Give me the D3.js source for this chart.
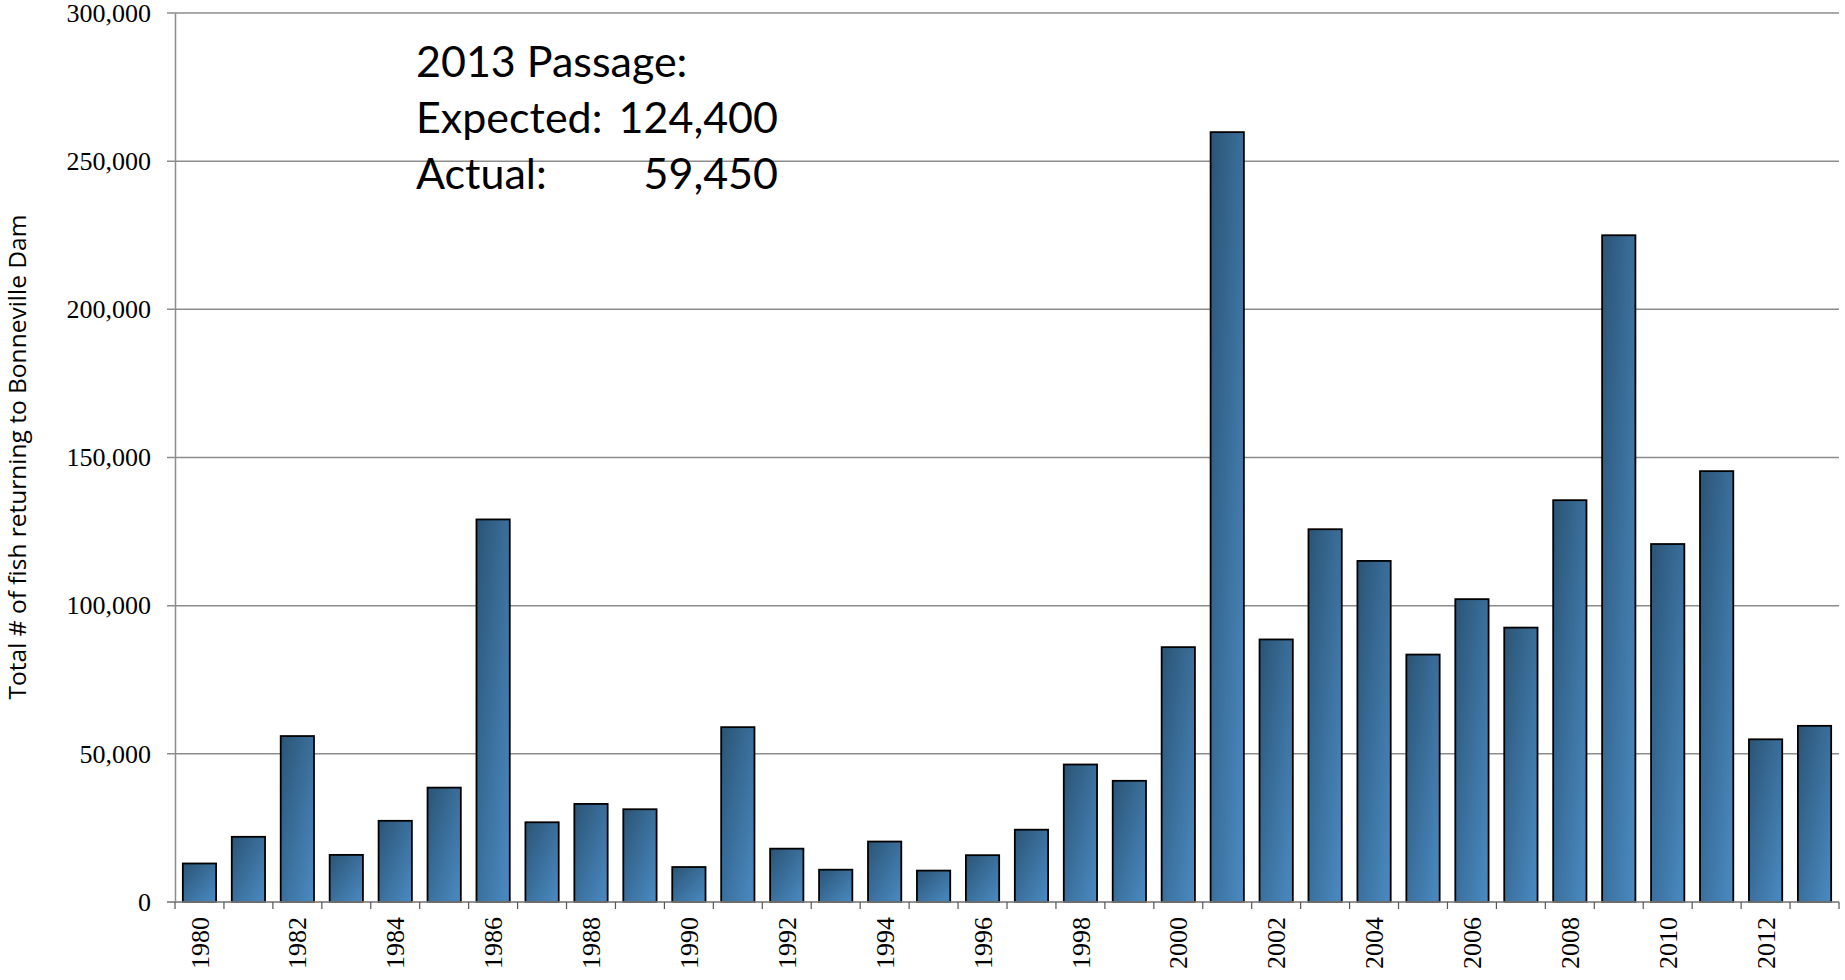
<!DOCTYPE html>
<html>
<head>
<meta charset="utf-8">
<script src="https://cdn.jsdelivr.net/npm/d3@7"></script>
<style>
  html, body { margin: 0; padding: 0; background: #fff; }
  svg { display: block; }
</style>
</head>
<body>
<svg id="chart" width="1845" height="980"></svg>
<script>
// fish passage at Bonneville Dam, one value per year
var years = [1980, 1981, 1982, 1983, 1984, 1985, 1986, 1987, 1988, 1989,
             1990, 1991, 1992, 1993, 1994, 1995, 1996, 1997, 1998, 1999,
             2000, 2001, 2002, 2003, 2004, 2005, 2006, 2007, 2008, 2009,
             2010, 2011, 2012, 2013];
var counts = [13000, 22000, 56000, 15900, 27400, 38600, 129100, 26900, 33100, 31300,
              11800, 59000, 18000, 10900, 20400, 10600, 15800, 24400, 46400, 40900,
              86000, 259800, 88600, 125800, 115100, 83500, 102200, 92600, 135600, 225000,
              120800, 145400, 54900, 59450];
var yTicks = [0, 50000, 100000, 150000, 200000, 250000, 300000];
var yTitle = "Total # of fish returning to Bonneville Dam";
var noteLines = ["2013 Passage:", "Expected:", "Actual:"];
var noteValues = ["", "124,400", "59,450"];

var margin = { top: 13, left: 175, right: 6, bottom: 78 };
var svg = d3.select("#chart");
var W = 1845 - margin.left - margin.right,
    H = 980 - margin.top - margin.bottom;

var data = years.map(function (y, i) { return { year: y, value: counts[i] }; });

var x = d3.scaleBand().domain(years).range([0, W]).paddingInner(0.32).paddingOuter(0.16);
var slot = d3.scaleBand().domain(years).range([0, W]).padding(0);
var y = d3.scaleLinear().domain([0, 300000]).range([H, 0]);

var defs = svg.append("defs");
var grad = defs.append("linearGradient")
    .attr("id", "barGrad")
    .attr("x1", 0).attr("y1", 0).attr("x2", 1).attr("y2", 1);
grad.append("stop").attr("offset", "0%").attr("stop-color", "#2b5475");
grad.append("stop").attr("offset", "100%").attr("stop-color", "#4a8bc3");

var g = svg.append("g").attr("transform", "translate(" + margin.left + "," + margin.top + ")");

// gridlines (they run out through the tick on the left)
g.append("g").selectAll("line")
    .data(yTicks)
    .enter().append("line")
    .attr("x1", -8).attr("x2", W)
    .attr("y1", function (d) { return y(d); })
    .attr("y2", function (d) { return y(d); })
    .attr("stroke", "#8c8c8c")
    .attr("stroke-width", 1.5);

// y axis
var yAxis = g.append("g")
    .call(d3.axisLeft(y).tickValues(yTicks).tickFormat(d3.format(",")).tickSize(0).tickPadding(24));
yAxis.select(".domain").attr("stroke", "#8c8c8c").attr("stroke-width", 1.5);
yAxis.selectAll("text")
    .attr("font-family", "'Liberation Serif', 'Times New Roman', serif")
    .attr("font-size", 26)
    .attr("fill", "#000");

// bars
g.append("g").selectAll("rect")
    .data(data)
    .enter().append("rect")
    .attr("x", function (d) { return x(d.year); })
    .attr("y", function (d) { return y(d.value); })
    .attr("width", x.bandwidth())
    .attr("height", function (d) { return H - y(d.value); })
    .attr("fill", "url(#barGrad)")
    .attr("stroke", "#000")
    .attr("stroke-width", 1.8);

// x axis line + tick marks on the category boundaries
g.append("line")
    .attr("x1", -8).attr("x2", W)
    .attr("y1", H).attr("y2", H)
    .attr("stroke", "#8c8c8c")
    .attr("stroke-width", 1.5);

var bounds = years.map(function (d) { return slot(d); }).concat([W]);
g.append("g").selectAll("line")
    .data(bounds)
    .enter().append("line")
    .attr("x1", function (d) { return d; })
    .attr("x2", function (d) { return d; })
    .attr("y1", H).attr("y2", H + 7)
    .attr("stroke", "#555")
    .attr("stroke-width", 1.2);

// year labels, every second one
g.append("g").selectAll("text")
    .data(years.filter(function (d, i) { return i % 2 === 0; }))
    .enter().append("text")
    .attr("transform", function (d) {
        return "translate(" + (x(d) + x.bandwidth() / 2) + "," + (H + 15) + ") rotate(-90)";
    })
    .attr("text-anchor", "end")
    .attr("dy", "0.35em")
    .attr("font-family", "'Liberation Serif', 'Times New Roman', serif")
    .attr("font-size", 26)
    .attr("fill", "#000")
    .text(function (d) { return d; });

// y axis title
svg.append("text")
    .attr("transform", "translate(26,457) rotate(-90)")
    .attr("text-anchor", "middle")
    .attr("font-family", "'Open Sans', 'Noto Sans', sans-serif")
    .attr("font-size", 24.5)
    .attr("fill", "#000")
    .text(yTitle);

// passage note
var note = svg.append("g").attr("font-family", "Lato, 'Noto Sans', sans-serif").attr("fill", "#000");
var noteSize = 43;
noteLines.forEach(function (t, i) {
    note.append("text")
        .attr("x", 416)
        .attr("y", 77 + i * 56)
        .attr("font-size", noteSize)
        .text(t);
    if (noteValues[i]) {
        note.append("text")
            .attr("x", 778)
            .attr("y", 77 + i * 56)
            .attr("text-anchor", "end")
            .attr("font-size", noteSize)
            .text(noteValues[i]);
    }
});
</script>
</body>
</html>
